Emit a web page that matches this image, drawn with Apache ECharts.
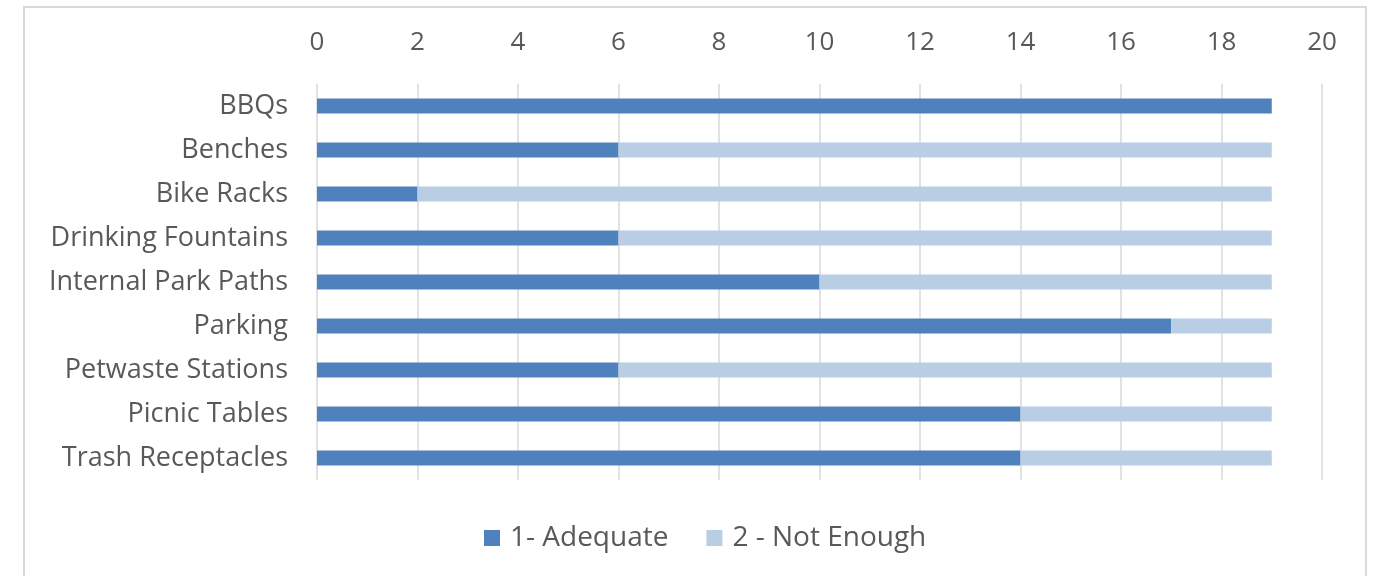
<!DOCTYPE html>
<html>
<head>
<meta charset="utf-8">
<script src="https://cdn.jsdelivr.net/npm/echarts@6/dist/echarts.min.js"></script>
<style>
  html, body { margin: 0; padding: 0; background: #fff; }
  #chart { width: 1379px; height: 576px; }
</style>
</head>
<body>
<div id="chart"></div>
<script>
// Park amenities survey: count of responses per amenity
const categories = [
  'BBQs', 'Benches', 'Bike Racks', 'Drinking Fountains', 'Internal Park Paths',
  'Parking', 'Petwaste Stations', 'Picnic Tables', 'Trash Receptacles'
];
const adequate  = [19, 6, 2, 6, 10, 17, 6, 14, 14];
const notEnough = [0, 13, 17, 13, 9, 2, 13, 5, 5];
const seriesNames = ['1- Adequate', '2 - Not Enough'];

const FONT = '"Open Sans", Lato, sans-serif';
const TEXT = '#595959';

const chart = echarts.init(document.getElementById('chart'), null, { renderer: 'canvas' });
chart.setOption({
  animation: false,
  backgroundColor: '#fff',
  textStyle: { fontFamily: FONT, color: TEXT },
  graphic: [{
    type: 'rect',
    shape: { x: 24, y: 7, width: 1342, height: 620 },
    style: { fill: 'none', stroke: '#d9d9d9', lineWidth: 2 },
    silent: true
  }],
  grid: { left: 317, right: 57, top: 84, bottom: 96, containLabel: false },
  legend: {
    bottom: 19,
    left: 479,
    itemWidth: 16,
    itemHeight: 16,
    itemGap: 38,
    icon: 'rect',
    textStyle: { fontFamily: FONT, color: TEXT, fontSize: 28, padding: [0, 0, 0, 5] },
    data: seriesNames
  },
  xAxis: {
    type: 'value',
    position: 'top',
    min: 0,
    max: 20,
    interval: 2,
    axisLine: { show: false },
    axisTick: { show: false },
    axisLabel: { color: TEXT, fontSize: 26, fontFamily: FONT, margin: 28 },
    splitLine: { show: true, lineStyle: { color: '#d9d9d9', width: 1.5 } }
  },
  yAxis: {
    type: 'category',
    inverse: true,
    data: categories,
    axisLine: { show: false },
    axisTick: { show: false },
    axisLabel: { color: TEXT, fontSize: 27, fontFamily: FONT, margin: 29, padding: [2, 0, 0, 0] }
  },
  series: [
    {
      name: seriesNames[0],
      type: 'bar',
      stack: 'total',
      barWidth: 15,
      itemStyle: { color: '#4f81bd' },
      data: adequate
    },
    {
      name: seriesNames[1],
      type: 'bar',
      stack: 'total',
      barWidth: 15,
      itemStyle: { color: '#b9cde5' },
      data: notEnough
    }
  ]
});
</script>
</body>
</html>
